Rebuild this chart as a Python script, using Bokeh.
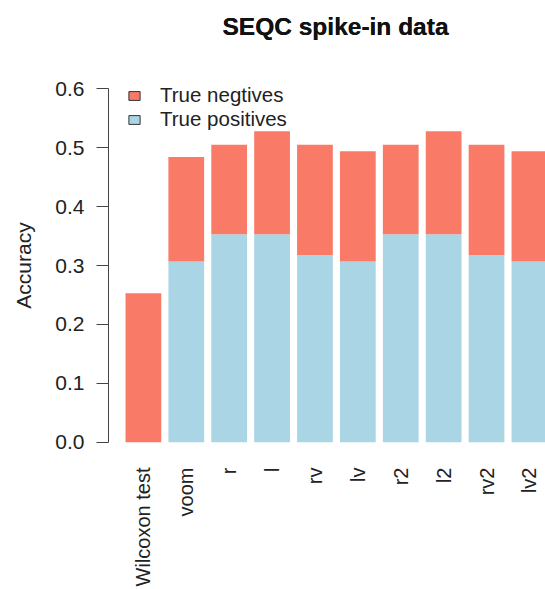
import math
from bokeh.plotting import figure
from bokeh.models import (ColumnDataSource, Range1d, FixedTicker, NumeralTickFormatter,
                          Legend, LegendItem, LinearAxis)
from bokeh.embed import file_html
from bokeh.resources import INLINE

# Accuracy of each method on the SEQC spike-in data, split into TP / TN shares
methods = ["Wilcoxon test", "voom", "r", "l", "rv", "lv", "r2", "l2", "rv2", "lv2"]
true_positives = [0.000, 0.307, 0.353, 0.353, 0.318, 0.307, 0.353, 0.353, 0.318, 0.307]
true_negatives = [0.253, 0.177, 0.152, 0.175, 0.187, 0.187, 0.152, 0.175, 0.187, 0.187]
y_ticks = [0.0, 0.1, 0.2, 0.3, 0.4, 0.5, 0.6]

RED = "#F97A67"
BLUE = "#A9D5E5"
FONT = "Liberation Sans"
FS = "21px"

# barplot-style positions: bar width 1, gap 0.2
centers = [round(0.7 + 1.2 * i, 6) for i in range(len(methods))]

source = ColumnDataSource(dict(x=centers, tp=true_positives, tn=true_negatives))

p = figure(width=545, height=589, output_backend="svg", toolbar_location=None,
           title="SEQC spike-in data",
           x_range=Range1d(-0.276, 11.95), y_range=Range1d(-0.0242, 0.6242),
           min_border_left=108, min_border_right=0, min_border_top=74,
           min_border_bottom=132, outline_line_color=None)
p.xgrid.visible = False
p.ygrid.visible = False

xa = p.below[0]
ya = p.left[0]

p.vbar_stack(["tp", "tn"], x="x", width=1.0, source=source,
             color=[BLUE, RED], line_color=None)

# legend swatches with a dark outline, as in base R legends (no visible bar of their own)
nan = float("nan")
neg_proxy = p.vbar(x=[centers[0]], top=[nan], width=1, fill_color=RED,
                   line_color="#333333", line_width=1)
pos_proxy = p.vbar(x=[centers[0]], top=[nan], width=1, fill_color=BLUE,
                   line_color="#333333", line_width=1)
legend = Legend(items=[LegendItem(label="True negtives", renderers=[neg_proxy]),
                       LegendItem(label="True positives", renderers=[pos_proxy])],
                location=(19, 325), padding=0, margin=0, spacing=0,
                glyph_width=14, glyph_height=11, label_standoff=19, label_height=23,
                label_text_font=FONT, label_text_font_size="20.5px",
                label_text_color="#222222", border_line_color=None,
                background_fill_alpha=0)
p.add_layout(legend)

# title, lifted away from the plotting area by an empty top axis used as a spacer
gap = LinearAxis(ticker=FixedTicker(ticks=[]), axis_line_color=None,
                 major_tick_line_color=None, minor_tick_line_color=None,
                 major_tick_out=46, major_tick_in=0, minor_tick_out=0,
                 major_label_standoff=0)
p.title.align = "left"
p.title.offset = 114
p.title.standoff = 4
p.title.text_font = FONT
p.title.text_font_size = "24.5px"
p.title.text_font_style = "bold"
p.title.text_color = "#111111"
p.above = [gap, p.title]

# y axis
ya.ticker = FixedTicker(ticks=y_ticks)
ya.formatter = NumeralTickFormatter(format="0.0")
ya.bounds = (0, 0.6)
ya.axis_label = "Accuracy"
ya.axis_label_text_font = FONT
ya.axis_label_text_font_size = FS
ya.axis_label_text_font_style = "normal"
ya.axis_label_text_color = "#222222"
ya.axis_label_standoff = 17
ya.major_label_text_font = FONT
ya.major_label_text_font_size = FS
ya.major_label_text_color = "#222222"
ya.major_label_standoff = 12
ya.major_tick_out = 12
ya.major_tick_in = 0
ya.minor_tick_line_color = None
ya.axis_line_color = "#444444"
ya.major_tick_line_color = "#444444"

# x axis: rotated method names only
xa.ticker = FixedTicker(ticks=centers)
xa.major_label_overrides = {c: m for c, m in zip(centers, methods)}
xa.major_label_orientation = math.pi / 2
xa.major_label_text_font = FONT
xa.major_label_text_font_size = "20px"
xa.major_label_text_color = "#222222"
xa.major_label_standoff = 11
xa.axis_line_color = None
xa.major_tick_line_color = None
xa.minor_tick_line_color = None
xa.major_tick_out = 0
xa.major_tick_in = 0

open("out.html", "w").write(file_html(p, INLINE))
